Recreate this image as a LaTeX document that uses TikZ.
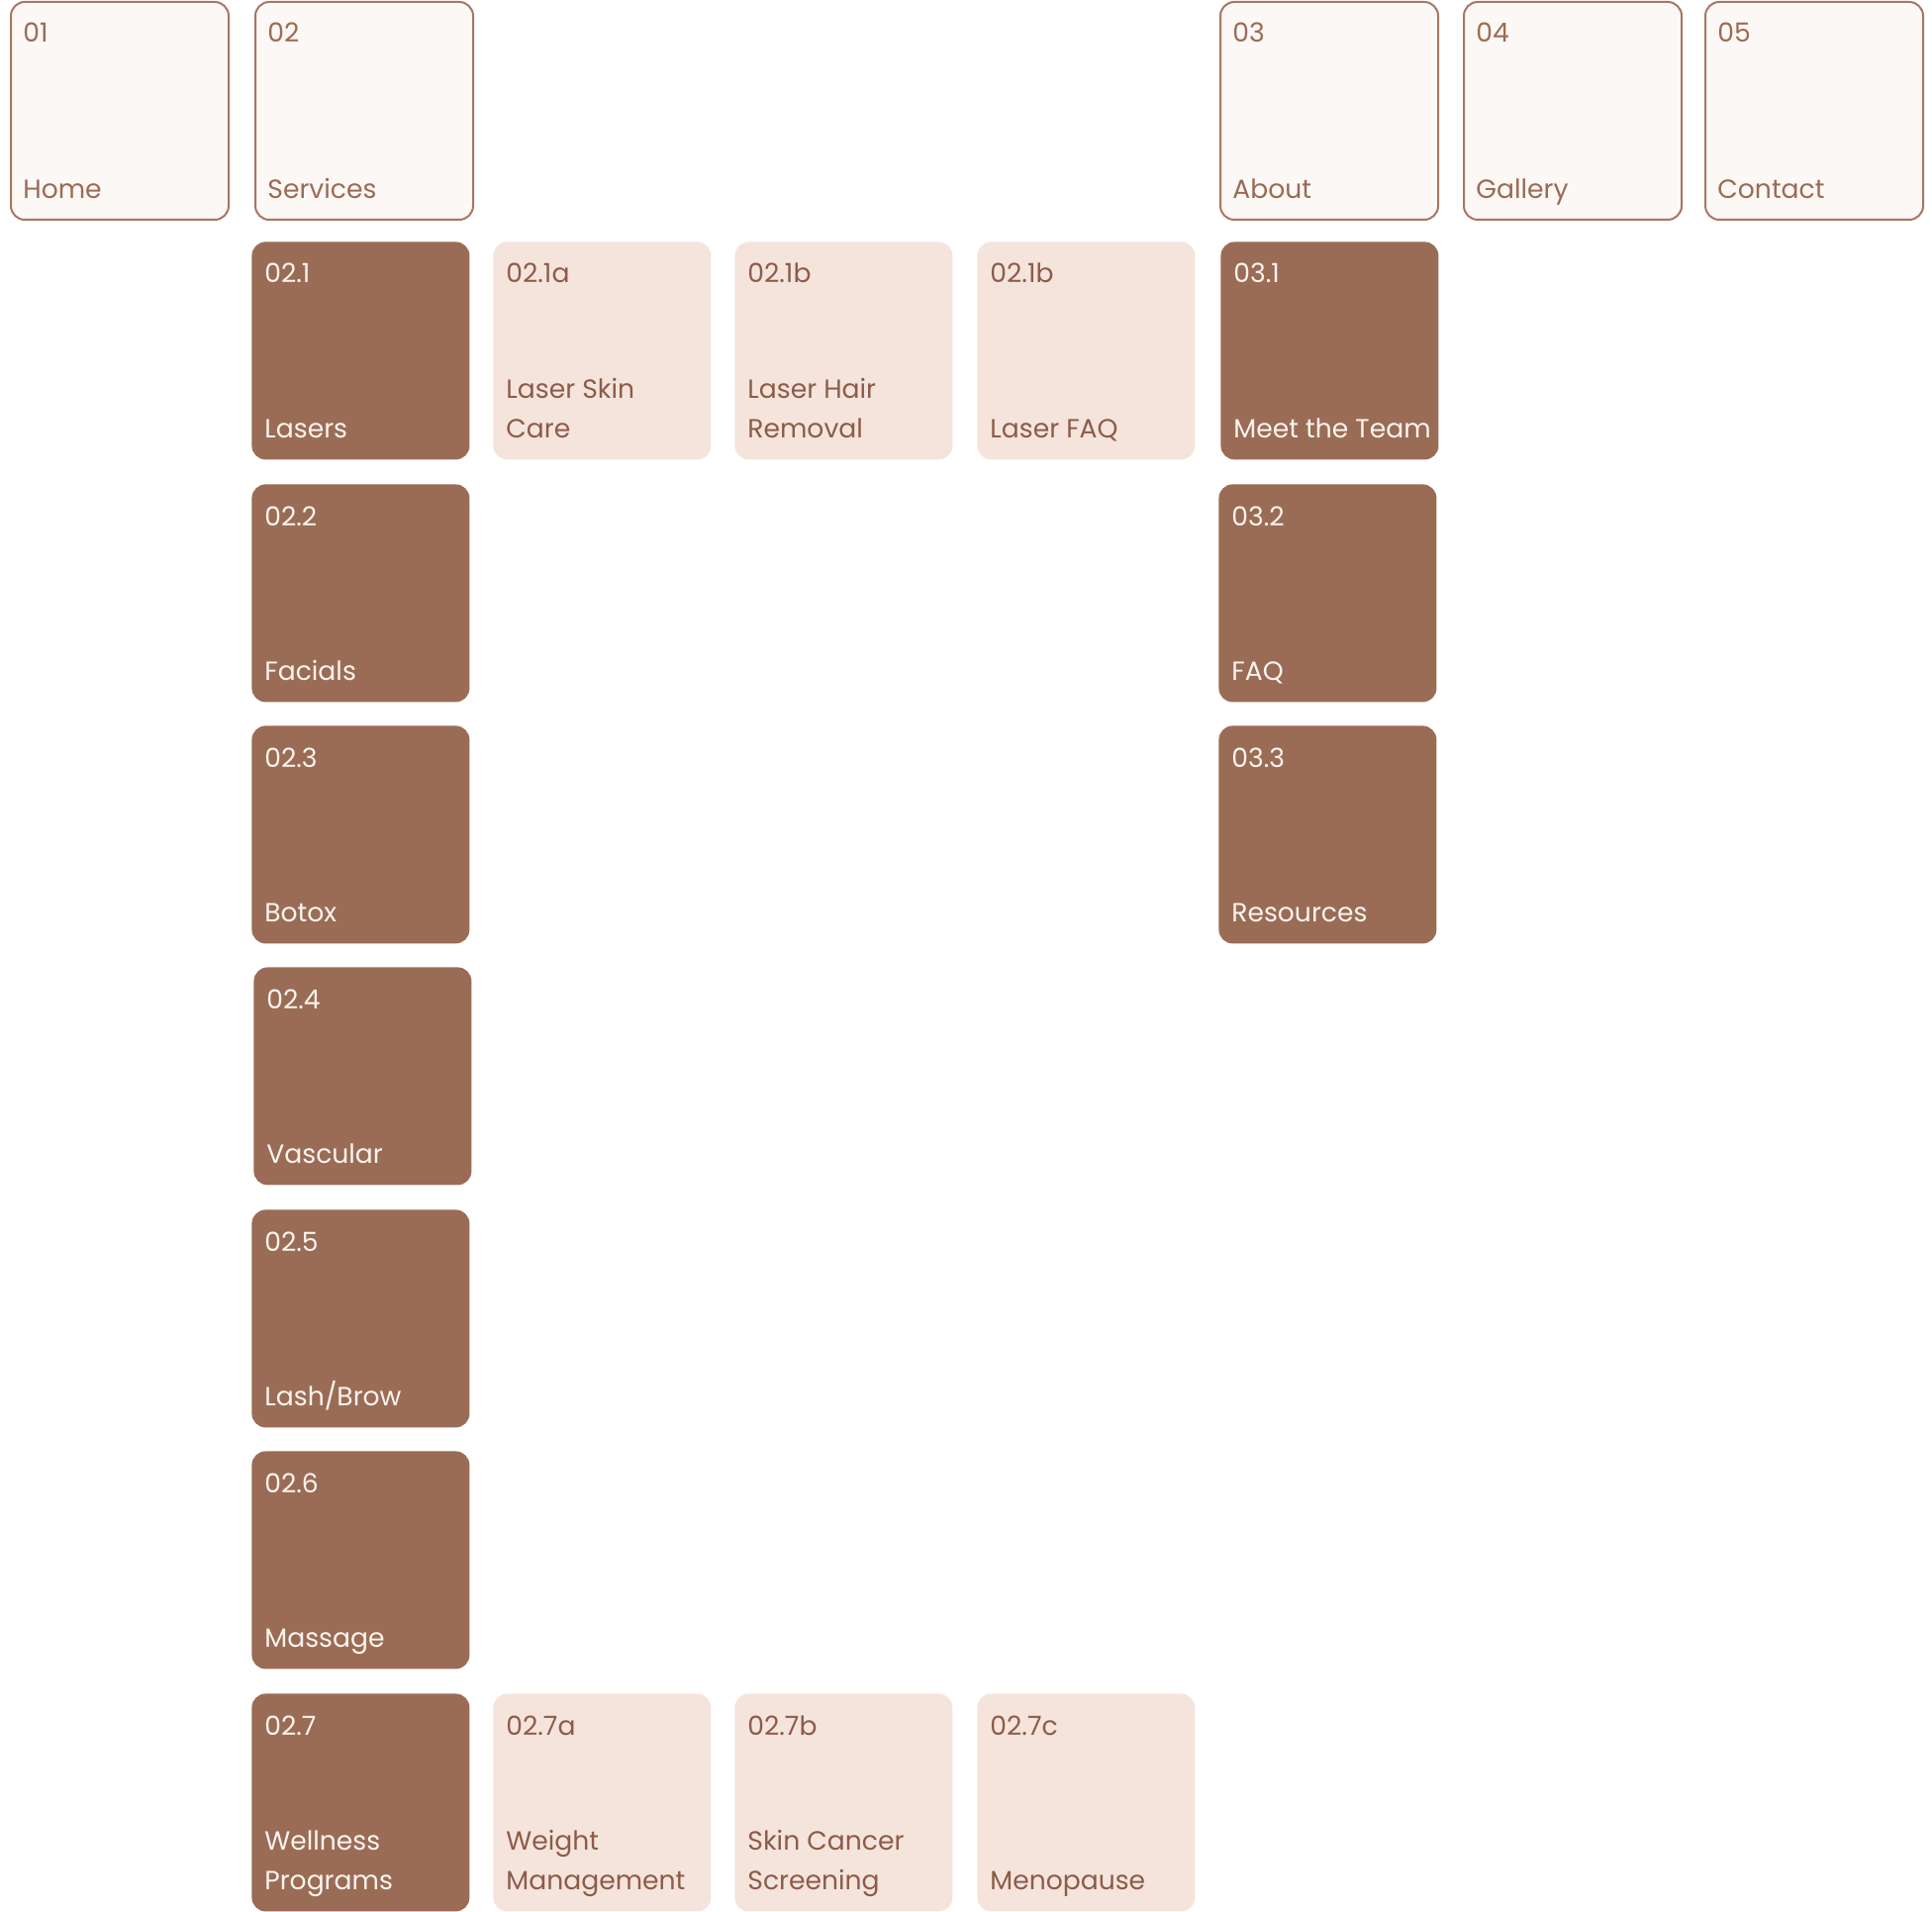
\documentclass[tikz,border=0pt]{standalone}
\usepackage{fontspec}
\setmainfont{Poppins}
\usetikzlibrary{calc}

\definecolor{navfill}{HTML}{FCF8F5}
\definecolor{navline}{HTML}{A87664}
\definecolor{navtext}{HTML}{9C6A54}
\definecolor{mainfill}{HTML}{9A6C56}
\definecolor{maintext}{HTML}{FBF4EE}
\definecolor{subfill}{HTML}{F5E4DC}
\definecolor{subtext}{HTML}{8C5C48}

\tikzset{
 tile/.style={rectangle, rounded corners=7pt, minimum width=110pt, minimum height=110pt, inner sep=0pt, anchor=north west},
 navtile/.style={tile, draw=navline, line width=1pt, fill=navfill},
 maintile/.style={tile, fill=mainfill},
 subtile/.style={tile, fill=subfill},
 tag/.style={anchor=base west, inner sep=0pt, align=left, font=\fontsize{13.3pt}{20pt}\selectfont},
}

\begin{document}
\begin{tikzpicture}[x=0.5pt, y=-0.5pt]
\useasboundingbox (0,0) rectangle (1952,1931);
\clip (0,0) rectangle (1952,1931);

% top level
\foreach \x/\id/\num/\txt in {10/01/01/Home, 257/02/02/Services, 1232/03/03/About, 1478/04/04/Gallery, 1722/05/05/Contact} {
 \node[navtile] (t\id) at (\x,1) {};
 \node[tag, text=navtext] (n\id) at ($(t\id.north west)+(13,42)$) {\num};
 \node[tag, text=navtext] (l\id) at ($(t\id.south west)+(13,-22)$) {\txt};
};

% second level
\foreach \x/\y/\id/\num/\txt in {254/244/021/02.1/Lasers, 254/489/022/02.2/Facials, 254/733/023/02.3/Botox, 256/977/024/02.4/Vascular, 254/1222/025/02.5/Lash\slash Brow, 254/1466/026/02.6/Massage, 254/1711/027/02.7/{Wellness\\Programs}, 1233/244/031/03.1/Meet the Team, 1231/489/032/03.2/FAQ, 1231/733/033/03.3/Resources} {
 \node[maintile] (t\id) at (\x,\y) {};
 \node[tag, text=maintext] (n\id) at ($(t\id.north west)+(13,42)$) {\num};
 \node[tag, text=maintext] (l\id) at ($(t\id.south west)+(13,-22)$) {\txt};
};

% third level
\foreach \x/\y/\id/\num/\txt in {498/244/021a/02.1a/{Laser Skin\\Care}, 742/244/021b/02.1b/{Laser Hair\\Removal}, 987/244/021c/02.1b/Laser FAQ, 498/1711/027a/02.7a/{Weight\\Management}, 742/1711/027b/02.7b/{Skin Cancer\\Screening}, 987/1711/027c/02.7c/Menopause} {
 \node[subtile] (t\id) at (\x,\y) {};
 \node[tag, text=subtext] (n\id) at ($(t\id.north west)+(13,42)$) {\num};
 \node[tag, text=subtext] (l\id) at ($(t\id.south west)+(13,-22)$) {\txt};
};

\end{tikzpicture}
\end{document}
